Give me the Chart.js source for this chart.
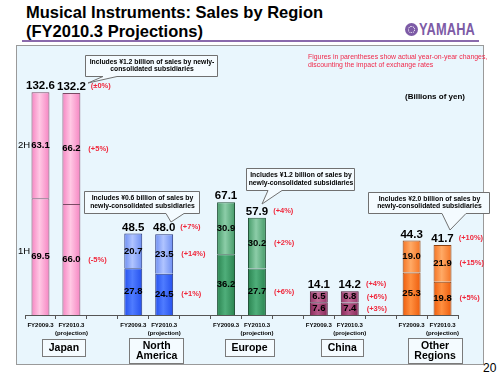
<!DOCTYPE html>
<html>
<head>
<meta charset="utf-8">
<script src="https://cdn.jsdelivr.net/npm/chart.js@4"></script>
<style>
  body { margin: 0; width: 500px; height: 375px; position: relative; overflow: hidden; background: #fff; font-family: "Liberation Sans", Arial, sans-serif; }
  .title { position: absolute; left: 26px; top: 3px; font-size: 16.5px; font-weight: bold; line-height: 19px; color: #000; }
  .rule { position: absolute; left: 22px; top: 40px; width: 457px; height: 2px; background: #8a6aac; }
  .panel { position: absolute; left: 16px; top: 45px; width: 466px; height: 318px; background: #e9f6fd; border: 1px solid #9a9a9a; }
  .logo { position: absolute; left: 405px; top: 21px; height: 17px; display: flex; align-items: center; }
  .emblem { width: 13px; height: 13px; border-radius: 50%; background: #7d5ba6; position: relative; }
  .emblem::after { content: ""; position: absolute; left: 3px; top: 3px; width: 5px; height: 5px; border-radius: 50%; border: 1px dotted #fff; }
  .logo span { font-size: 16px; font-weight: bold; color: #7d5ba6; margin-left: 1px; display: inline-block; transform: scaleX(0.8); transform-origin: left center; letter-spacing: 0.2px; }
  .page { position: absolute; left: 483px; top: 361px; font-size: 12px; color: #000; }
  canvas { position: absolute; left: 0; top: 0; }
</style>
</head>
<body>
<div class="title">Musical Instruments: Sales by Region<br>(FY2010.3 Projections)</div>
<div class="logo"><div class="emblem"></div><span>YAMAHA</span></div>
<div class="rule"></div>
<div class="panel"></div>
<div class="page">20</div>
<canvas id="myChart" width="500" height="375"></canvas>
<script>
// data (billions of yen); empty slots separate the regions
const slots = ["FY2009.3", ["FY2010.3", "(projection)"], "",
               "FY2009.3", ["FY2010.3", "(projection)"], "",
               "FY2009.3", ["FY2010.3", "(projection)"], "",
               "FY2009.3", ["FY2010.3", "(projection)"], "",
               "FY2009.3", ["FY2010.3", "(projection)"]];
const firstHalf  = [69.5, 66.0, null, 27.8, 24.5, null, 36.2, 27.7, null, 7.6, 7.4, null, 25.3, 19.8];
const secondHalf = [63.1, 66.2, null, 20.7, 23.5, null, 30.9, 30.2, null, 6.5, 6.8, null, 19.0, 21.9];
const totals     = [132.6, 132.2, null, 48.5, 48.0, null, 67.1, 57.9, null, 14.1, 14.2, null, 44.3, 41.7];
const pctTotal = [null, "(±0%)", null, null, "(+7%)", null, null, "(+4%)", null, null, "(+4%)", null, null, "(+10%)"];
const pct2H    = [null, "(+5%)", null, null, "(+14%)", null, null, "(+2%)", null, null, "(+6%)", null, null, "(+15%)"];
const pct1H    = [null, "(-5%)", null, null, "(+1%)", null, null, "(+6%)", null, null, "(+3%)", null, null, "(+5%)"];
const regions = [["Japan"], ["North", "America"], ["Europe"], ["China"], ["Other", "Regions"]];
const regionSlots = [[0, 1], [3, 4], [6, 7], [9, 10], [12, 13]];
const noteLines = ["Figures in parentheses show actual year-on-year changes,", "discounting the impact of exchange rates"];
const callouts = [
  { lines: ["Includes ¥1.2 billion of sales by newly-", "consolidated subsidiaries"], box: [85, 55, 132, 21], base: [103, 117], tip: [88, 83] },
  { lines: ["Includes ¥0.6 billion of sales by", "newly-consolidated subsidiaries"], box: [84, 191, 115, 22], base: [166, 184], tip: [171, 222] },
  { lines: ["Includes ¥1.2 billion of sales by", "newly-consolidated subsidiaries"], box: [246, 168, 108, 22], base: [268, 282], tip: [262, 204] },
  { lines: ["Includes ¥2.0 billion of sales by", "newly-consolidated subsidiaries"], box: [368, 192, 121, 21], base: [442, 466], tip: [450, 230] },
];

// styles
const palette = [
  { lo: ["#f684c2", "#ffc8e4"], hi: ["#f684c2", "#ffc8e4"], line: "#7a4a64" },
  { lo: ["#2450ee", "#4f7cff"], hi: ["#6d8ef2", "#b0c4ff"], line: "#2a3a80" },
  { lo: ["#2a8450", "#4fae7a"], hi: ["#459a68", "#8ccda8"], line: "#24553a" },
  { lo: ["#862858", "#b45686"], hi: ["#96386a", "#c46c98"], line: "#4e1a36" },
  { lo: ["#ee5c0c", "#ff9040"], hi: ["#f57424", "#ffaa66"], line: "#8a4010" },
];
const groupOf = slots.map((s, i) => {
  const g = regionSlots.findIndex(p => p.includes(i));
  return g < 0 ? null : g;
});
const FONT = '"Liberation Sans", Arial, sans-serif';

barFill = (half) => (c) => {
  const g = groupOf[c.dataIndex];
  if (g == null) return "rgba(0,0,0,0)";
  const [edge, mid] = palette[g][half];
  const xs = c.chart.scales.x;
  if (!xs || !c.chart.chartArea) return edge;
  const cx = xs.getPixelForValue(c.dataIndex);
  const grad = c.chart.ctx.createLinearGradient(cx - 9, 0, cx + 9, 0);
  grad.addColorStop(0, edge);
  grad.addColorStop(0.45, mid);
  grad.addColorStop(1, edge);
  return grad;
};
barLine = (c) => {
  const g = groupOf[c.dataIndex];
  return g == null ? "rgba(0,0,0,0)" : palette[g].line;
};

const labelsPlugin = {
  id: "labels",
  afterDatasetsDraw(chart) {
    const ctx = chart.ctx;
    const lo = chart.getDatasetMeta(0).data;
    const hi = chart.getDatasetMeta(1).data;
    ctx.save();
    ctx.textAlign = "center";
    ctx.textBaseline = "middle";

    slots.forEach((s, i) => {
      if (firstHalf[i] == null) return;
      const a = lo[i], b = hi[i];
      const right = a.x + a.width / 2;
      ctx.fillStyle = "#000";
      ctx.font = "bold 9.5px " + FONT;
      ctx.textAlign = "center";
      ctx.fillText(firstHalf[i].toFixed(1), a.x, (a.y + a.base) / 2);
      ctx.fillText(secondHalf[i].toFixed(1), b.x, (b.y + b.base) / 2);
      ctx.font = "bold 11.5px " + FONT;
      ctx.textBaseline = "alphabetic";
      ctx.fillText(totals[i].toFixed(1), b.x, b.y - 3);
      const tw = ctx.measureText(totals[i].toFixed(1)).width;
      ctx.textBaseline = "middle";

      // year-on-year changes
      ctx.fillStyle = "#f0283c";
      ctx.font = "bold 7.5px " + FONT;
      ctx.textAlign = "left";
      if (pctTotal[i]) ctx.fillText(pctTotal[i], Math.max(right + 7, b.x + tw / 2 + 5), b.y - 7);
      if (pct2H[i]) ctx.fillText(pct2H[i], right + 8, (b.y + b.base) / 2);
      if (pct1H[i]) ctx.fillText(pct1H[i], right + 8, (a.y + a.base) / 2);
    });

    // 1H / 2H markers
    ctx.fillStyle = "#000";
    ctx.font = "9.5px " + FONT;
    ctx.textAlign = "left";
    ctx.fillText("2H", 18, (hi[0].y + hi[0].base) / 2);
    ctx.fillText("1H", 18, (lo[0].y + lo[0].base) / 2 - 5);

    // region boxes
    regions.forEach((lines, g) => {
      const [s0, s1] = regionSlots[g];
      const cx = (lo[s0].x + lo[s1].x) / 2 + 8;
      ctx.font = "bold 10.5px " + FONT;
      const w = Math.max(...lines.map(t => ctx.measureText(t).width)) + 13;
      const h = lines.length === 1 ? 17 : 25;
      const top = lines.length === 1 ? 339 : 338;
      ctx.fillStyle = "#f4fbff";
      ctx.strokeStyle = "#7a7a7a";
      ctx.lineWidth = 1;
      ctx.fillRect(Math.round(cx - w / 2) + 0.5, top + 0.5, Math.round(w), h);
      ctx.strokeRect(Math.round(cx - w / 2) + 0.5, top + 0.5, Math.round(w), h);
      ctx.fillStyle = "#000";
      ctx.textAlign = "center";
      lines.forEach((t, k) => ctx.fillText(t, cx, top + 9 + k * 10.5 - (lines.length - 1) * 1));
    });

    // callouts
    callouts.forEach((c) => {
      const [x, y, w, h] = c.box;
      ctx.fillStyle = "#f4fbff";
      ctx.strokeStyle = "#707070";
      ctx.lineWidth = 1;
      ctx.beginPath();
      ctx.moveTo(x + 0.5, y + 0.5);
      ctx.lineTo(x + w + 0.5, y + 0.5);
      ctx.lineTo(x + w + 0.5, y + h + 0.5);
      ctx.lineTo(c.base[1], y + h + 0.5);
      ctx.lineTo(c.tip[0], c.tip[1]);
      ctx.lineTo(c.base[0], y + h + 0.5);
      ctx.lineTo(x + 0.5, y + h + 0.5);
      ctx.closePath();
      ctx.fill();
      ctx.stroke();
      ctx.fillStyle = "#000";
      ctx.font = "bold 6.8px " + FONT;
      ctx.textAlign = "center";
      c.lines.forEach((t, k) => ctx.fillText(t, x + w / 2 + 1, y + h / 2 - 3.7 + k * 7.8));
    });

    // note and unit
    ctx.fillStyle = "#f0284a";
    ctx.font = "6.9px " + FONT;
    ctx.textAlign = "left";
    noteLines.forEach((t, k) => ctx.fillText(t, 308, 57 + k * 8));
    ctx.fillStyle = "#000";
    ctx.font = "bold 8px " + FONT;
    ctx.fillText("(Billions of yen)", 405, 97);
    ctx.restore();
  },
};

const data = {
  labels: slots,
  datasets: [
    { label: "1H", data: firstHalf, backgroundColor: barFill("lo"), borderColor: barLine, borderWidth: 1 },
    { label: "2H", data: secondHalf, backgroundColor: barFill("hi"), borderColor: barLine, borderWidth: 1 },
  ],
};

const config = {
  type: "bar",
  data,
  options: {
    responsive: false,
    animation: false,
    categoryPercentage: 1,
    barPercentage: 0.58,
    layout: { padding: { left: 25, right: 42, top: 63, bottom: 0 } },
    plugins: {
      legend: { display: false },
      title: { display: false },
      tooltip: { enabled: false },
    },
    scales: {
      x: {
        stacked: true,
        afterFit: (scale) => { scale.height = 60; },
        border: { color: "#555", width: 1 },
        grid: { offset: true, drawOnChartArea: false, color: "#555", tickLength: 4 },
        ticks: {
          autoSkip: false,
          maxRotation: 0,
          padding: 2,
          color: "#000",
          font: { family: FONT, size: 6, weight: "bold", lineHeight: 1.35 },
        },
      },
      y: {
        stacked: true,
        display: false,
        min: 0,
        max: 150,
      },
    },
  },
  plugins: [labelsPlugin],
};

const ctx = document.getElementById("myChart").getContext("2d");
const salesChart = new Chart(ctx, config);
</script>
</body>
</html>
